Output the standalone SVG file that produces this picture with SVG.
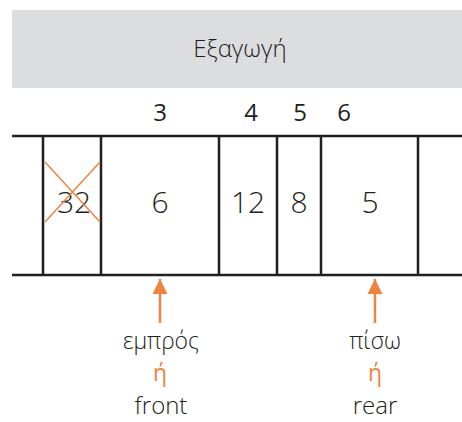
<svg xmlns="http://www.w3.org/2000/svg" width="462" height="422" viewBox="0 0 462 422">
<style>
.t{font-family:"Open Sans","DejaVu Sans",sans-serif;font-weight:300;fill:#231f20;text-anchor:middle}
.h{font-family:"Open Sans","DejaVu Sans",sans-serif;font-weight:500;fill:#231f20;text-anchor:middle;font-size:24px}
.ln{stroke:#231f20;stroke-width:2.5;fill:none}
.or{stroke:#f0833f;stroke-width:2.5;fill:none}
.o{font-family:"Open Sans","DejaVu Sans",sans-serif;font-weight:400;fill:#f0833f;text-anchor:middle;font-size:23px}
</style>
<defs>
<marker id="ah" viewBox="0 0 10 10" refX="10" refY="5" markerWidth="6" markerHeight="6.5" orient="auto" markerUnits="strokeWidth">
<path d="M0,0 L10,5 L0,10 Z" fill="#f0833f"/>
</marker>
</defs>
<g id="header">
<rect x="12" y="10" width="450" height="78" fill="#dcddde"/>
<text class="t" x="240" y="57" font-size="24">Εξαγωγή</text>
</g>
<g id="indices">
<text class="h" x="160" y="121">3</text>
<text class="h" x="251" y="121">4</text>
<text class="h" x="300" y="121">5</text>
<text class="h" x="344" y="121">6</text>
</g>
<g id="queue">
<line class="ln" x1="12" y1="136" x2="462" y2="136"/>
<line class="ln" x1="12" y1="275" x2="462" y2="275"/>
<line class="ln" x1="43" y1="136" x2="43" y2="275"/>
<line class="ln" x1="101" y1="136" x2="101" y2="275"/>
<line class="ln" x1="219" y1="136" x2="219" y2="275"/>
<line class="ln" x1="277" y1="136" x2="277" y2="275"/>
<line class="ln" x1="321" y1="136" x2="321" y2="275"/>
<line class="ln" x1="418" y1="136" x2="418" y2="275"/>
</g>
<g id="cell-32">
<text class="t" x="74" y="213" font-size="30">32</text>
<line x1="45" y1="162" x2="100" y2="222" stroke="#f0833f" stroke-width="1.5"/>
<line x1="100" y1="162" x2="45" y2="222" stroke="#f0833f" stroke-width="1.5"/>
</g>
<g id="cell-6"><text class="t" x="160" y="213" font-size="30">6</text></g>
<g id="cell-12"><text class="t" x="248" y="213" font-size="30">12</text></g>
<g id="cell-8"><text class="t" x="299" y="213" font-size="30">8</text></g>
<g id="cell-5"><text class="t" x="370" y="213" font-size="30">5</text></g>
<g id="connectors">
<line class="or" x1="160" y1="323" x2="160" y2="279" marker-end="url(#ah)"/>
<line class="or" x1="375" y1="323" x2="375" y2="279" marker-end="url(#ah)"/>
</g>
<g id="front-label">
<text class="t" x="161" y="349" font-size="23">εμπρός</text>
<text class="o" x="160" y="381">ή</text>
<text class="t" x="161" y="414" font-size="24">front</text>
</g>
<g id="rear-label">
<text class="t" x="375" y="349" font-size="23">πίσω</text>
<text class="o" x="375" y="381">ή</text>
<text class="t" x="375" y="414" font-size="24">rear</text>
</g>
</svg>
